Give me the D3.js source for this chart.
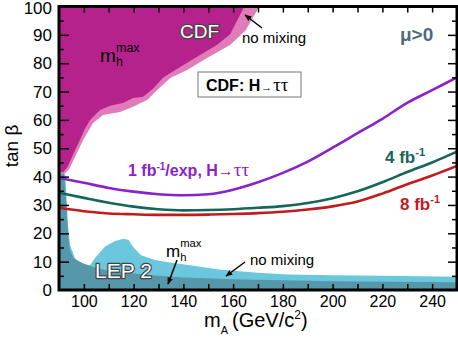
<!DOCTYPE html>
<html>
<head>
<meta charset="utf-8">
<script src="https://cdn.jsdelivr.net/npm/d3@7"></script>
<style>
  body { margin: 0; background: #fff; }
  svg { display: block; font-family: "Liberation Sans", Arial, sans-serif; }
</style>
</head>
<body>
<svg id="chart" width="458" height="339"></svg>
<script>
// m_A grid for the Tevatron expected limits (GeV/c^2)
const massA = [90, 100, 110, 120, 130, 140, 150, 160, 170, 180, 190, 200, 210, 220, 230, 240, 250];
const limit1fb = [39.5, 37.8, 36.0, 34.7, 33.8, 33.4, 33.8, 35.4, 38.0, 41.3, 45.3, 50.2, 55.3, 60.4, 66.0, 70.5, 75.0];
const limit4fb = [34.3, 32.5, 30.8, 29.4, 28.5, 28.1, 28.2, 28.5, 29.0, 29.6, 30.7, 32.4, 34.8, 38.0, 41.6, 45.0, 48.8];
const limit8fb = [29.0, 27.8, 27.0, 26.7, 26.5, 26.5, 26.6, 26.8, 27.1, 27.6, 28.4, 29.5, 31.2, 34.0, 37.3, 40.4, 43.8];

// excluded regions, [m_A, tan beta]
const cdfNoMixing = [[90, 100], [90, 41], [92, 40.8], [94, 42.5], [96.5, 47], [99.7, 52.9], [103.7, 58.9], [107.7, 61.7],
  [114.5, 62.8], [119.8, 64.6], [122, 65.6], [125.4, 67], [129.4, 70.5], [134.7, 74.8], [141.5, 77.6],
  [149.5, 81.8], [158.8, 86.4], [165, 91.5], [170.5, 100]];
const cdfMhmax = [[90, 100], [90, 41.5], [91.8, 41.6], [93.5, 43.5], [95.5, 47.5], [98.4, 52.9], [100.5, 57], [102.5, 60],
  [106.5, 63.5], [110.5, 65], [115.7, 66], [119.8, 67.7], [123.8, 68.2], [127.8, 71], [131.9, 75],
  [138.7, 78.7], [146.7, 82.9], [153.5, 86.4], [158.8, 90.2], [164.5, 100]];
const lepNoMixing = [[90, 0], [90, 41], [92.5, 41], [93.2, 30], [93.6, 23], [94.4, 16], [96.4, 11.3], [99, 9.1],
  [102.5, 8.8], [104.5, 11.3], [108.5, 15.3], [112.5, 17.3], [116, 18.1], [118, 17.6], [119.5, 15.5],
  [123, 12.3], [128.6, 10.6], [135, 9.6], [142, 8.8], [155, 7.1], [170, 6.1], [182, 5.5], [200, 5.2],
  [220, 5.0], [250, 4.7], [250, 0]];
const lepMhmax = [[90, 0], [90, 41], [92, 41], [93, 30], [93.6, 20], [94.4, 14.1], [95.8, 11.2], [98.4, 10],
  [100, 9.3], [104, 8], [110, 6.8], [120, 5.8], [130, 5], [140, 4.4], [160, 3.8], [200, 3.1], [250, 2.7], [250, 0]];

const xTickLabels = [100, 120, 140, 160, 180, 200, 220, 240];
const yTickLabels = [0, 10, 20, 30, 40, 50, 60, 70, 80, 90, 100];

const svg = d3.select("#chart");
const frame = { left: 59, right: 457, top: 6.5, bottom: 290 };

const x = d3.scaleLinear().domain([90, 250]).range([frame.left, frame.right]);
const y = d3.scaleLinear().domain([0, 100]).range([frame.bottom, frame.top]);

const defs = svg.append("defs");
defs.append("clipPath").attr("id", "plotclip")
  .append("rect").attr("x", frame.left).attr("y", frame.top)
  .attr("width", frame.right - frame.left).attr("height", frame.bottom - frame.top);

defs.append("marker")
  .attr("id", "arrow")
  .attr("viewBox", "0 0 10 10")
  .attr("refX", 9).attr("refY", 5)
  .attr("markerWidth", 7).attr("markerHeight", 7)
  .attr("markerUnits", "userSpaceOnUse")
  .attr("orient", "auto")
  .append("path").attr("d", "M0,1 L10,5 L0,9 Z").attr("fill", "#000");

const plot = svg.append("g").attr("clip-path", "url(#plotclip)");

const region = d3.line().x(d => x(d[0])).y(d => y(d[1]));

// regions
plot.append("path").attr("d", region(cdfNoMixing) + "Z").attr("fill", "#e07cb8");
plot.append("path").attr("d", region(cdfMhmax) + "Z").attr("fill", "#b5228c");
plot.append("path").attr("d", region(lepNoMixing) + "Z").attr("fill", "#6ac7de");
plot.append("path").attr("d", region(lepMhmax) + "Z").attr("fill", "#5697a9");

// expected limits
const limit = d3.line()
  .x((d, i) => x(massA[i]))
  .y(d => y(d))
  .curve(d3.curveMonotoneX);

const curves = [
  { values: limit1fb, color: "#8a22c9" },
  { values: limit4fb, color: "#17665a" },
  { values: limit8fb, color: "#c01c1c" }
];
curves.forEach(c => {
  plot.append("path")
    .attr("d", limit(c.values))
    .attr("fill", "none")
    .attr("stroke", c.color)
    .attr("stroke-width", 2.6);
});

// ticks, all pointing inwards
const tickAxis = (g, axis) => {
  g.call(axis);
  g.select(".domain").remove();
  g.selectAll("line").attr("stroke", "#000").attr("stroke-width", 1.5);
};
const xMinor = d3.range(100, 250, 10);
svg.append("g").attr("transform", `translate(0,${frame.bottom})`)
  .call(g => tickAxis(g, d3.axisBottom(x).tickValues(xMinor).tickSize(-6).tickFormat("")));
svg.append("g").attr("transform", `translate(0,${frame.top})`)
  .call(g => tickAxis(g, d3.axisTop(x).tickValues(xMinor).tickSize(-6).tickFormat("")));
svg.append("g").attr("transform", `translate(${frame.left},0)`)
  .call(g => tickAxis(g, d3.axisLeft(y).tickValues(d3.range(10, 100, 10)).tickSize(-10).tickFormat("")));
svg.append("g").attr("transform", `translate(${frame.left},0)`)
  .call(g => tickAxis(g, d3.axisLeft(y).tickValues(d3.range(5, 100, 10)).tickSize(-5).tickFormat("")));
svg.append("g").attr("transform", `translate(${frame.right},0)`)
  .call(g => tickAxis(g, d3.axisRight(y).tickValues(d3.range(10, 100, 10)).tickSize(-9).tickFormat("")));
svg.append("g").attr("transform", `translate(${frame.right},0)`)
  .call(g => tickAxis(g, d3.axisRight(y).tickValues(d3.range(5, 100, 10)).tickSize(-5).tickFormat("")));

// tick labels
const xl = svg.append("g").attr("transform", `translate(0,${frame.bottom})`)
  .call(d3.axisBottom(x).tickValues(xTickLabels).tickSize(0).tickPadding(6));
xl.select(".domain").remove();
xl.selectAll("text").attr("font-size", 16).attr("font-family", "Liberation Sans, Arial, sans-serif").attr("fill", "#000");

const yl = svg.append("g").attr("transform", `translate(${frame.left},0)`)
  .call(d3.axisLeft(y).tickValues(yTickLabels).tickSize(0).tickPadding(7));
yl.select(".domain").remove();
yl.selectAll("text").attr("font-size", 17).attr("font-family", "Liberation Sans, Arial, sans-serif").attr("fill", "#000")
  .attr("dy", d => d === 100 ? "0.42em" : "0.32em");

// frame
svg.append("rect")
  .attr("x", frame.left).attr("y", frame.top)
  .attr("width", frame.right - frame.left).attr("height", frame.bottom - frame.top)
  .attr("fill", "none").attr("stroke", "#000").attr("stroke-width", 3);

// axis titles
svg.append("text")
  .attr("transform", "translate(18,146) rotate(-90)")
  .attr("text-anchor", "middle")
  .attr("font-size", 19)
  .text("tan β");

const xt = svg.append("text").attr("x", 204).attr("y", 327).attr("font-size", 20);
xt.append("tspan").text("m");
xt.append("tspan").attr("font-size", 11).attr("dy", 7).text("A");
xt.append("tspan").attr("dy", -7).attr("dx", 4).text("(GeV/c");
xt.append("tspan").attr("font-size", 12).attr("dy", -8).text("2");
xt.append("tspan").attr("dy", 8).text(")");

// annotations
function mhmax(xp, yp, size) {
  const g = svg.append("g");
  g.append("text").attr("x", xp).attr("y", yp).attr("font-size", size).text("m");
  const w = size * 0.84;
  g.append("text").attr("x", xp + w).attr("y", yp + 4).attr("font-size", size * 0.66).text("h");
  g.append("text").attr("x", xp + w).attr("y", yp - 10).attr("font-size", size * 0.66).text("max");
}
mhmax(100, 62, 19);
mhmax(166, 257, 17);

const outlined = (xp, yp, size, s) => svg.append("text")
  .attr("x", xp).attr("y", yp).attr("font-size", size)
  .attr("fill", "#fff").attr("stroke", "#444").attr("stroke-width", 2.4)
  .attr("paint-order", "stroke").attr("stroke-linejoin", "round")
  .text(s);
outlined(180, 38, 19, "CDF");
outlined(95, 278, 21, "LEP 2");

svg.append("text").attr("x", 242).attr("y", 43).attr("font-size", 15).text("no mixing");
svg.append("text").attr("x", 250).attr("y", 265).attr("font-size", 15).text("no mixing");

const arrow = (x1, y1, x2, y2) => svg.append("line")
  .attr("x1", x1).attr("y1", y1).attr("x2", x2).attr("y2", y2)
  .attr("stroke", "#000").attr("stroke-width", 1.5).attr("marker-end", "url(#arrow)");
arrow(262, 28, 245, 15);
arrow(177, 260, 168, 284);
arrow(245, 262, 226, 276);

svg.append("text").attr("x", 400).attr("y", 41).attr("font-size", 19)
  .attr("font-weight", "bold").attr("fill", "#4e6a80").text("μ>0");

// CDF: H -> tau tau box
svg.append("rect").attr("x", 198).attr("y", 72).attr("width", 103).attr("height", 25)
  .attr("fill", "#fff").attr("stroke", "#777").attr("stroke-width", 1);
const bt = svg.append("text").attr("x", 206).attr("y", 91).attr("font-size", 16).attr("font-weight", "bold");
bt.append("tspan").text("CDF: H");
bt.append("tspan").attr("font-size", 11).attr("dx", 1).text("→");
bt.append("tspan").attr("font-family", "Liberation Serif, serif").attr("font-weight", "normal").attr("font-size", 19).attr("dx", 1).text("ττ");

// curve labels
const pl = svg.append("text").attr("x", 128).attr("y", 176).attr("font-size", 16)
  .attr("font-weight", "bold").attr("fill", "#8a22c9");
pl.append("tspan").text("1 fb");
pl.append("tspan").attr("font-size", 10).attr("dy", -6).text("-1");
pl.append("tspan").attr("dy", 6).text("/exp, H→");
pl.append("tspan").attr("font-family", "Liberation Serif, serif").attr("font-weight", "normal").attr("font-size", 19).text("ττ");

function fbLabel(xp, yp, n, color) {
  const t = svg.append("text").attr("x", xp).attr("y", yp).attr("font-size", 17)
    .attr("font-weight", "bold").attr("fill", color);
  t.append("tspan").text(n + " fb");
  t.append("tspan").attr("font-size", 11).attr("dy", -7).text("-1");
}
fbLabel(385, 163, 4, "#17665a");
fbLabel(400, 210, 8, "#c01c1c");
</script>
</body>
</html>
